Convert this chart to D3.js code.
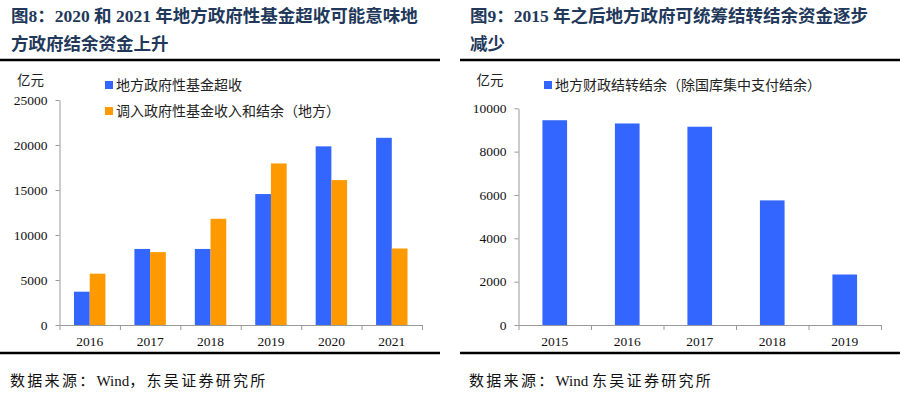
<!DOCTYPE html>
<html>
<head>
<meta charset="utf-8">
<script src="https://cdn.jsdelivr.net/npm/d3@7"></script>
<style>
  body { margin: 0; background: #fff; }
  svg { display: block; }
  .serif { font-family: "Liberation Serif", "Noto Sans CJK SC", serif; }
</style>
</head>
<body>
<svg id="canvas" width="904" height="397"></svg>
<script>
// chart 8 data
let years8 = ['2016', '2017', '2018', '2019', '2020', '2021'];
let overIncome = [3700, 8450, 8450, 14550, 19850, 20800];
let transferIn = [5700, 8100, 11800, 17950, 16100, 8500];
let series8 = ['地方政府性基金超收', '调入政府性基金收入和结余（地方）'];
let ticks8 = [0, 5000, 10000, 15000, 20000, 25000];

// chart 9 data
let years9 = ['2015', '2016', '2017', '2018', '2019'];
let carryOver = [9450, 9300, 9150, 5750, 2330];
let series9 = ['地方财政结转结余（除国库集中支付结余）'];
let ticks9 = [0, 2000, 4000, 6000, 8000, 10000];

let blue = '#3366ff';
let orange = '#ff9900';
let navy = '#22385a';
let axisGray = '#999';

let canvas = d3.select('#canvas');
canvas.append('rect').attr('width', 904).attr('height', 397).attr('fill', '#fff');

// titles, rules, source
let drawFrame = (x0, x1, tx, lines, source) => {
    let title = canvas.append('text')
        .attr('class', 'serif')
        .attr('font-size', '17.5px')
        .attr('font-weight', 'bold')
        .attr('fill', navy);
    lines.forEach((line, i) => {
        title.append('tspan').attr('x', tx).attr('y', 22 + i * 28).text(line);
    });
    canvas.append('line')
        .attr('x1', x0).attr('x2', x1).attr('y1', 60).attr('y2', 60)
        .attr('stroke', '#000').attr('stroke-width', 2.5);
    canvas.append('line')
        .attr('x1', x0).attr('x2', x1).attr('y1', 353).attr('y2', 353)
        .attr('stroke', '#000').attr('stroke-width', 2.5);
    // source line: CJK spaced out, "Wind" kept tight
    let src = canvas.append('text')
        .attr('class', 'serif')
        .attr('x', tx - 1).attr('y', 386)
        .attr('font-size', '15px')
        .attr('fill', '#111');
    source.forEach((part) => {
        src.append('tspan')
            .attr('letter-spacing', /^[A-Za-z ]+$/.test(part) ? '0px' : '2.3px')
            .text(part);
    });
};

drawFrame(0, 440, 11, ['图8：2020 和 2021 年地方政府性基金超收可能意味地', '方政府结余资金上升'], ['数据来源：', 'Wind', '，东吴证券研究所']);
drawFrame(460, 900, 470, ['图9：2015 年之后地方政府可统筹结转结余资金逐步', '减少'], ['数据来源：', 'Wind ', '东吴证券研究所']);

// shared axis drawing
let drawAxes = (xLeft, xRight, yScale, yTicks, cats, unitX) => {
    let n = cats.length;
    let yAxis = d3.axisLeft(yScale)
        .tickValues(yTicks)
        .tickSize(4)
        .tickPadding(8)
        .tickSizeOuter(0)
        .tickFormat(d3.format('d'));
    let gy = canvas.append('g')
        .attr('transform', 'translate(' + xLeft + ',0)')
        .call(yAxis);

    let boundary = d3.scaleLinear().domain([0, n]).range([xLeft, xRight]);
    let gb = canvas.append('g')
        .attr('transform', 'translate(0,' + yScale(0) + ')')
        .call(d3.axisBottom(boundary).ticks(n).tickSize(5).tickSizeOuter(0).tickFormat(''));

    let labels = d3.scaleBand().domain(cats).range([xLeft, xRight]);
    let gx = canvas.append('g')
        .attr('transform', 'translate(0,' + yScale(0) + ')')
        .call(d3.axisBottom(labels).tickSize(0).tickPadding(11));
    gx.select('.domain').remove();

    [gy, gb, gx].forEach((g) => {
        g.selectAll('path, line').attr('stroke', axisGray);
        g.selectAll('text')
            .attr('font-family', '"Liberation Serif", serif')
            .attr('font-size', '13.5px')
            .attr('fill', '#111');
    });

    canvas.append('text')
        .attr('x', unitX).attr('y', 85)
        .attr('font-family', '"Noto Sans CJK SC", sans-serif')
        .attr('font-size', '13.5px')
        .attr('fill', '#222')
        .text('亿元');
    return labels;
};

let drawLegend = (x, names, colors) => {
    names.forEach((name, i) => {
        let y = 85 + i * 26;
        canvas.append('rect')
            .attr('x', x).attr('y', y - 4)
            .attr('width', 8).attr('height', 8)
            .attr('fill', colors[i]);
        canvas.append('text')
            .attr('x', x + 11).attr('y', y + 5)
            .attr('font-family', '"Noto Sans CJK SC", sans-serif')
            .attr('font-size', '14px')
            .attr('fill', '#222')
            .text(name);
    });
};

// chart 8
let y8 = d3.scaleLinear().domain([0, 25000]).range([325, 100]);
let x8 = drawAxes(59.5, 422, y8, ticks8, years8, 17);
let inner8 = d3.scaleBand().domain([0, 1]).range([x8.bandwidth() * 0.24, x8.bandwidth() * 0.76]);
let rows8 = years8.map((year, i) => ({ year: year, values: [overIncome[i], transferIn[i]] }));
let colors8 = [blue, orange];

let groups = canvas.selectAll('g.group8')
    .data(rows8)
    .enter()
    .append('g')
    .attr('class', 'group8')
    .attr('transform', (d) => 'translate(' + x8(d.year) + ',0)');

groups.selectAll('rect')
    .data((d) => d.values)
    .enter()
    .append('rect')
    .attr('x', (v, i) => inner8(i))
    .attr('width', inner8.bandwidth())
    .attr('y', (v) => y8(v))
    .attr('height', (v) => y8(0) - y8(v))
    .attr('fill', (v, i) => colors8[i]);

drawLegend(105, series8, colors8);

// chart 9
let y9 = d3.scaleLinear().domain([0, 10000]).range([325, 108.3]);
drawAxes(518.5, 881, y9, ticks9, years9, 476.5);
let bars9 = d3.scaleBand().domain(years9).range([518.5, 881]).paddingInner(0.66).paddingOuter(0.33);

canvas.selectAll('rect.bar9')
    .data(years9.map((year, i) => ({ year: year, value: carryOver[i] })))
    .enter()
    .append('rect')
    .attr('class', 'bar9')
    .attr('x', (d) => bars9(d.year))
    .attr('width', bars9.bandwidth())
    .attr('y', (d) => y9(d.value))
    .attr('height', (d) => y9(0) - y9(d.value))
    .attr('fill', blue);

drawLegend(544, series9, [blue]);
</script>
</body>
</html>
